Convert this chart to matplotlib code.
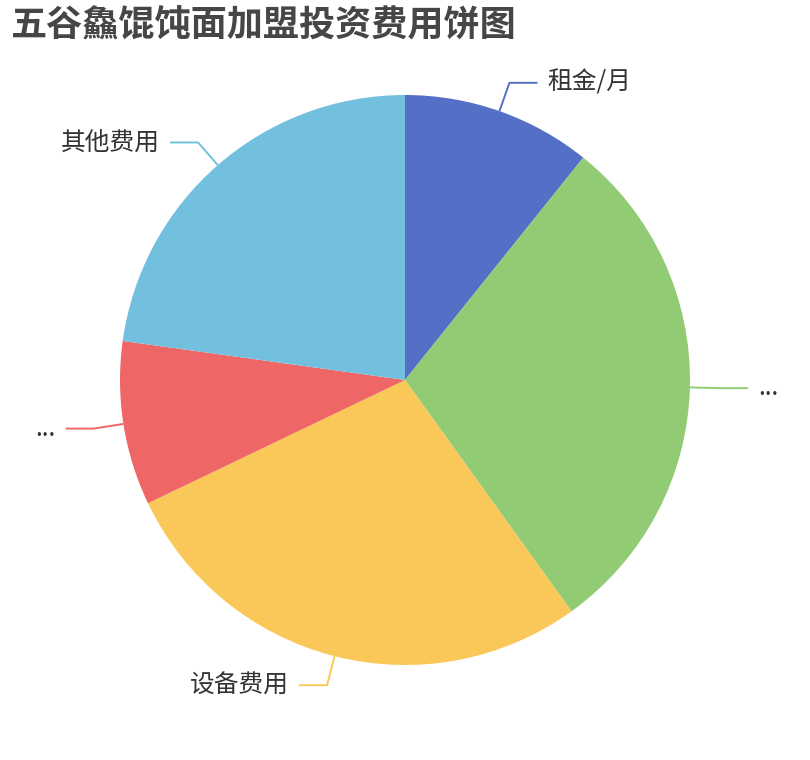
import numpy as np
import matplotlib
matplotlib.use("Agg")
import matplotlib.pyplot as plt

plt.rcParams['font.family'] = ['Noto Sans CJK SC', 'DejaVu Sans']

# slice data, clockwise from 12 o'clock (shares in percent)
labels = ['租金/月', '...', '设备费用', '...', '其他费用']
shares = [10.75, 29.3, 27.8, 9.3, 22.8]
colors = ['#5470c6', '#91cc75', '#fac858', '#ee6666', '#73c0de']
title = '五谷鱻馄饨面加盟投资费用饼图'

fig = plt.figure(figsize=(8.1, 7.6), dpi=100)
ax = fig.add_axes([0, 0, 1, 1])

cx, cy, r = 405, 380, 285
wedges, _ = ax.pie(shares, colors=colors, startangle=90, counterclock=False,
                   radius=r, center=(cx, cy))
ax.set_xlim(0, 810)
ax.set_ylim(0, 760)
ax.set_aspect('equal')
ax.axis('off')

# leader lines: radial piece then horizontal piece, label after it
for w, lab in zip(wedges, labels):
    mid = np.deg2rad((w.theta1 + w.theta2) / 2)
    dx, dy = np.cos(mid), np.sin(mid)
    x0, y0 = cx + r * dx, cy + r * dy
    x1, y1 = cx + (r + 30) * dx, cy + (r + 30) * dy
    side = 1 if dx >= 0 else -1
    x2 = x1 + side * 28
    ax.plot([x0, x1, x2], [y0, y1, y1], color=w.get_facecolor(), lw=1.4,
            solid_capstyle='butt')
    ax.text(x2 + side * 10, y1, lab, ha='left' if side > 0 else 'right',
            va='center', fontsize=17.8, color='#333333')

fig.text(10 / 810, 1 - 26 / 760, title, fontsize=26, fontweight='bold',
         color='#464646', ha='left', va='center')

fig.savefig('out.png', dpi=100)
